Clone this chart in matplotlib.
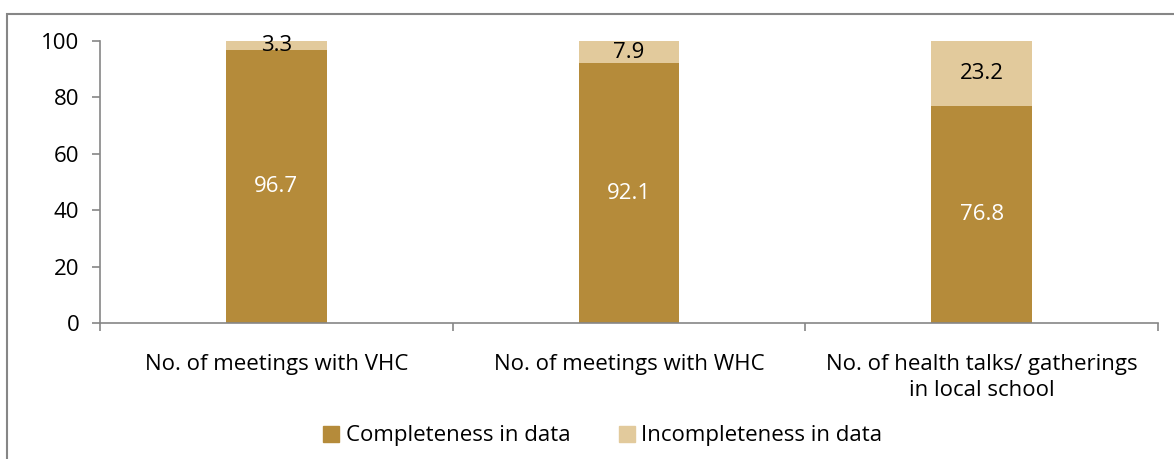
import matplotlib.pyplot as plt
from matplotlib.patches import Rectangle, Patch
import numpy as np

categories = ['No. of meetings with VHC', 'No. of meetings with WHC',
              'No. of health talks/ gatherings\nin local school']
complete = [96.7, 92.1, 76.8]
incomplete = [3.3, 7.9, 23.2]
series_names = ['Completeness in data', 'Incompleteness in data']

dark = '#B58B3A'
light = '#E2CA9C'
grey = '#868686'

plt.rcParams['font.family'] = ['Open Sans', 'DejaVu Sans']
plt.rcParams['font.size'] = 16

fig = plt.figure(figsize=(11.74, 4.59), dpi=100)
ax = fig.add_axes([100 / 1174, 1 - 323 / 459, 1058 / 1174, 282 / 459])

# outer chart border
fig.patches.append(Rectangle((7 / 1174, -0.05), 1.0, 1 - 14 / 459 + 0.05,
                             transform=fig.transFigure, fill=False,
                             edgecolor=grey, linewidth=1.5))

x = np.arange(len(categories))
w = 0.285
ax.bar(x, complete, w, color=dark, label=series_names[0])
ax.bar(x, incomplete, w, bottom=complete, color=light, label=series_names[1])

for i in range(len(x)):
    ax.text(x[i], complete[i] / 2, f'{complete[i]:.1f}', ha='center', va='center',
            color='white', fontsize=16)
    ax.text(x[i], complete[i] + incomplete[i] / 2, f'{incomplete[i]:.1f}',
            ha='center', va='center', color='black', fontsize=16)

ax.set_xlim(-0.5, 2.5)
ax.set_ylim(0, 100)
ax.set_yticks(np.arange(0, 101, 20))
ax.set_xticks(x)
ax.set_xticklabels(categories, linespacing=1.35)
ax.set_xticks([-0.5, 0.5, 1.5, 2.5], minor=True)
ax.tick_params(axis='x', which='major', length=0, pad=22)
ax.tick_params(axis='x', which='minor', length=6, color=grey, width=1.2)
ax.tick_params(axis='y', length=6, color=grey, width=1.2, pad=9, labelsize=16)

for s in ['top', 'right']:
    ax.spines[s].set_visible(False)
for s in ['left', 'bottom']:
    ax.spines[s].set_color(grey)
    ax.spines[s].set_linewidth(1.2)

handles = [Patch(color=dark), Patch(color=light)]
fig.legend(handles, series_names, loc='center', bbox_to_anchor=(603 / 1174, 1 - 436 / 459),
           ncol=2, frameon=False, handlelength=0.7, handleheight=0.7,
           handletextpad=0.3, columnspacing=2.2, fontsize=16)

fig.savefig('out.png', dpi=100)
